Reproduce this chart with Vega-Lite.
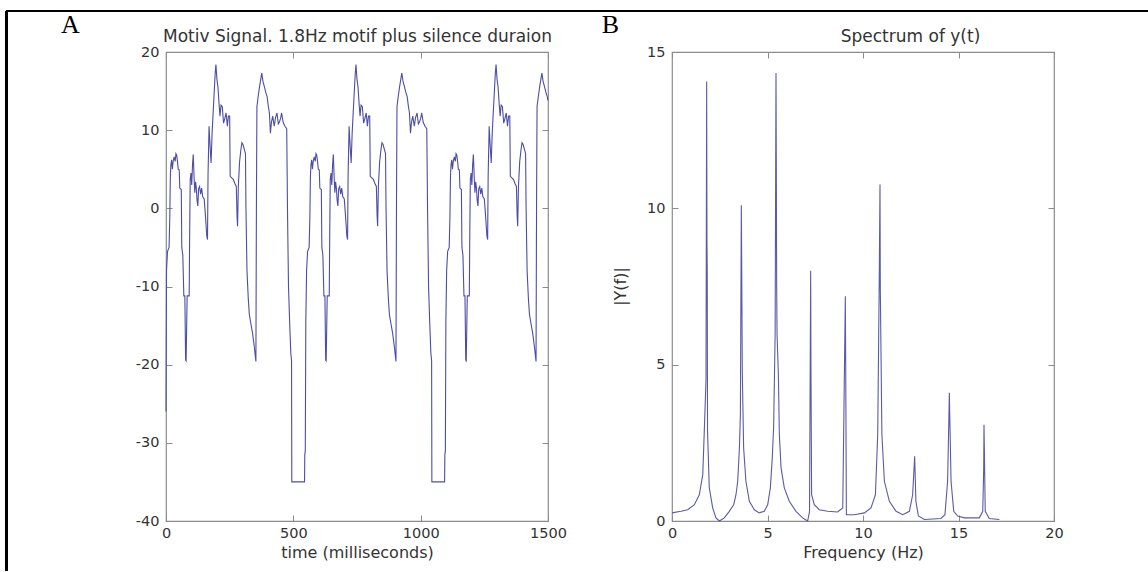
{
  "$schema": "https://vega.github.io/schema/vega-lite/v6.json",
  "padding": {"left": 4, "top": 9, "right": 0, "bottom": 0},
  "background": "white",
  "bounds": "flush",
  "spacing": 124,
  "config": {
    "view": {"stroke": "#8c8c8c", "strokeWidth": 1.2},
    "font": "DejaVu Sans",
    "axis": {
      "domain": false, "grid": false,
      "tickColor": "#8c8c8c", "tickSize": -6, "tickWidth": 1,
      "labelFont": "DejaVu Sans", "labelFontSize": 14.5, "labelColor": "#333",
      "labelPadding": 11, "labelFlush": false, "labelOverlap": false, "labelBound": false,
      "labelExpr": "'' + datum.value",
      "titleFont": "DejaVu Sans", "titleFontSize": 16, "titleFontWeight": "normal", "titleColor": "#333"
    }
  },
  "hconcat": [
    {
      "width": 382, "height": 469,
      "data": {"values": [
        {"t":0,"v":-26},{"t":2,"v":-8},{"t":6,"v":-5.5},{"t":12,"v":-5},{"t":15,"v":-1},{"t":17,"v":4},{"t":19,"v":5.5},{"t":22,"v":6.2},{"t":25,"v":5.0},{"t":28,"v":6.0},{"t":32,"v":6.6},{"t":36,"v":6.0},{"t":39,"v":7.0},{"t":42,"v":6.8},{"t":45,"v":6.0},{"t":48,"v":5.0},{"t":52,"v":4.9},{"t":54,"v":2.6},{"t":60,"v":2.4},{"t":62,"v":-5},{"t":66,"v":-6},{"t":70,"v":-11.2},{"t":74,"v":-11.2},{"t":77,"v":-19.4},{"t":79,"v":-19.5},{"t":83,"v":-11.2},{"t":91,"v":-11.2},{"t":93,"v":-3},{"t":95,"v":3.7},{"t":98,"v":4.5},{"t":101,"v":3.0},{"t":104,"v":5.5},{"t":107,"v":6.9},{"t":110,"v":4.2},{"t":113,"v":2.0},{"t":116,"v":3.4},{"t":119,"v":2.6},{"t":122,"v":1.0},{"t":125,"v":0.3},{"t":128,"v":2.5},{"t":132,"v":2.8},{"t":136,"v":1.8},{"t":140,"v":2.6},{"t":144,"v":1.5},{"t":150,"v":1.2},{"t":155,"v":-1},{"t":160,"v":-3.5},{"t":163,"v":-4.0},{"t":165,"v":4.1},{"t":169,"v":10.5},{"t":173,"v":8},{"t":177,"v":5.8},{"t":181,"v":9.6},{"t":185,"v":12.2},{"t":189,"v":14.7},{"t":193,"v":17.2},{"t":196,"v":18.4},{"t":200,"v":16.5},{"t":204,"v":15.5},{"t":208,"v":13.5},{"t":212,"v":11.8},{"t":216,"v":13.2},{"t":221,"v":13},{"t":226,"v":10.9},{"t":231,"v":11.5},{"t":236,"v":12.2},{"t":241,"v":10.5},{"t":245,"v":11.8},{"t":250,"v":11.8},{"t":252,"v":4.1},{"t":258,"v":3.9},{"t":264,"v":3.7},{"t":270,"v":3.2},{"t":276,"v":2.8},{"t":279,"v":-1},{"t":281,"v":-2.3},{"t":284,"v":2.8},{"t":289,"v":6.0},{"t":294,"v":7.5},{"t":298,"v":8.4},{"t":302,"v":8.2},{"t":307,"v":7.6},{"t":312,"v":7.0},{"t":314,"v":0},{"t":318,"v":-8},{"t":323,"v":-11.5},{"t":327,"v":-13.5},{"t":333,"v":-14.7},{"t":340,"v":-16},{"t":347,"v":-17.8},{"t":353,"v":-19.6},{"t":355,"v":0},{"t":357,"v":13},{"t":362,"v":14.3},{"t":367,"v":15.5},{"t":372,"v":16.5},{"t":376,"v":17.3},{"t":381,"v":16.2},{"t":386,"v":15.6},{"t":392,"v":14.8},{"t":397,"v":14.3},{"t":402,"v":13},{"t":406,"v":12.2},{"t":410,"v":9.6},{"t":414,"v":11},{"t":419,"v":11.8},{"t":425,"v":10.5},{"t":430,"v":11.6},{"t":436,"v":12.2},{"t":441,"v":10.8},{"t":445,"v":11.0},{"t":450,"v":11.5},{"t":454,"v":12.2},{"t":460,"v":11.0},{"t":467,"v":10.5},{"t":474,"v":10.2},{"t":477,"v":0},{"t":481,"v":-10},{"t":486,"v":-15},{"t":490,"v":-18.5},{"t":493,"v":-19.5},{"t":494,"v":-35},{"t":544,"v":-35},{"t":545,"v":-31.5},{"t":547,"v":-31},{"t":549,"v":-14.5},
        {"t":552,"v":-8},{"t":556,"v":-5.5},{"t":562,"v":-5},{"t":565,"v":-1},{"t":567,"v":4},{"t":569,"v":5.5},{"t":572,"v":6.2},{"t":575,"v":5.0},{"t":578,"v":6.0},{"t":582,"v":6.6},{"t":586,"v":6.0},{"t":589,"v":7.0},{"t":592,"v":6.8},{"t":595,"v":6.0},{"t":598,"v":5.0},{"t":602,"v":4.9},{"t":604,"v":2.6},{"t":610,"v":2.4},{"t":612,"v":-5},{"t":616,"v":-6},{"t":620,"v":-11.2},{"t":624,"v":-11.2},{"t":627,"v":-19.4},{"t":629,"v":-19.5},{"t":633,"v":-11.2},{"t":641,"v":-11.2},{"t":643,"v":-3},{"t":645,"v":3.7},{"t":648,"v":4.5},{"t":651,"v":3.0},{"t":654,"v":5.5},{"t":657,"v":6.9},{"t":660,"v":4.2},{"t":663,"v":2.0},{"t":666,"v":3.4},{"t":669,"v":2.6},{"t":672,"v":1.0},{"t":675,"v":0.3},{"t":678,"v":2.5},{"t":682,"v":2.8},{"t":686,"v":1.8},{"t":690,"v":2.6},{"t":694,"v":1.5},{"t":700,"v":1.2},{"t":705,"v":-1},{"t":710,"v":-3.5},{"t":713,"v":-4.0},{"t":715,"v":4.1},{"t":719,"v":10.5},{"t":723,"v":8},{"t":727,"v":5.8},{"t":731,"v":9.6},{"t":735,"v":12.2},{"t":739,"v":14.7},{"t":743,"v":17.2},{"t":746,"v":18.4},{"t":750,"v":16.5},{"t":754,"v":15.5},{"t":758,"v":13.5},{"t":762,"v":11.8},{"t":766,"v":13.2},{"t":771,"v":13},{"t":776,"v":10.9},{"t":781,"v":11.5},{"t":786,"v":12.2},{"t":791,"v":10.5},{"t":795,"v":11.8},{"t":800,"v":11.8},{"t":802,"v":4.1},{"t":808,"v":3.9},{"t":814,"v":3.7},{"t":820,"v":3.2},{"t":826,"v":2.8},{"t":829,"v":-1},{"t":831,"v":-2.3},{"t":834,"v":2.8},{"t":839,"v":6.0},{"t":844,"v":7.5},{"t":848,"v":8.4},{"t":852,"v":8.2},{"t":857,"v":7.6},{"t":862,"v":7.0},{"t":864,"v":0},{"t":868,"v":-8},{"t":873,"v":-11.5},{"t":877,"v":-13.5},{"t":883,"v":-14.7},{"t":890,"v":-16},{"t":897,"v":-17.8},{"t":903,"v":-19.6},{"t":905,"v":0},{"t":907,"v":13},{"t":912,"v":14.3},{"t":917,"v":15.5},{"t":922,"v":16.5},{"t":926,"v":17.3},{"t":931,"v":16.2},{"t":936,"v":15.6},{"t":942,"v":14.8},{"t":947,"v":14.3},{"t":952,"v":13},{"t":956,"v":12.2},{"t":960,"v":9.6},{"t":964,"v":11},{"t":969,"v":11.8},{"t":975,"v":10.5},{"t":980,"v":11.6},{"t":986,"v":12.2},{"t":991,"v":10.8},{"t":995,"v":11.0},{"t":1000,"v":11.5},{"t":1004,"v":12.2},{"t":1010,"v":11.0},{"t":1017,"v":10.5},{"t":1024,"v":10.2},{"t":1027,"v":0},{"t":1031,"v":-10},{"t":1036,"v":-15},{"t":1040,"v":-18.5},{"t":1043,"v":-19.5},{"t":1044,"v":-35},{"t":1094,"v":-35},{"t":1095,"v":-31.5},{"t":1097,"v":-31},{"t":1099,"v":-14.5},
        {"t":1102,"v":-8},{"t":1106,"v":-5.5},{"t":1112,"v":-5},{"t":1115,"v":-1},{"t":1117,"v":4},{"t":1119,"v":5.5},{"t":1122,"v":6.2},{"t":1125,"v":5.0},{"t":1128,"v":6.0},{"t":1132,"v":6.6},{"t":1136,"v":6.0},{"t":1139,"v":7.0},{"t":1142,"v":6.8},{"t":1145,"v":6.0},{"t":1148,"v":5.0},{"t":1152,"v":4.9},{"t":1154,"v":2.6},{"t":1160,"v":2.4},{"t":1162,"v":-5},{"t":1166,"v":-6},{"t":1170,"v":-11.2},{"t":1174,"v":-11.2},{"t":1177,"v":-19.4},{"t":1179,"v":-19.5},{"t":1183,"v":-11.2},{"t":1191,"v":-11.2},{"t":1193,"v":-3},{"t":1195,"v":3.7},{"t":1198,"v":4.5},{"t":1201,"v":3.0},{"t":1204,"v":5.5},{"t":1207,"v":6.9},{"t":1210,"v":4.2},{"t":1213,"v":2.0},{"t":1216,"v":3.4},{"t":1219,"v":2.6},{"t":1222,"v":1.0},{"t":1225,"v":0.3},{"t":1228,"v":2.5},{"t":1232,"v":2.8},{"t":1236,"v":1.8},{"t":1240,"v":2.6},{"t":1244,"v":1.5},{"t":1250,"v":1.2},{"t":1255,"v":-1},{"t":1260,"v":-3.5},{"t":1263,"v":-4.0},{"t":1265,"v":4.1},{"t":1269,"v":10.5},{"t":1273,"v":8},{"t":1277,"v":5.8},{"t":1281,"v":9.6},{"t":1285,"v":12.2},{"t":1289,"v":14.7},{"t":1293,"v":17.2},{"t":1296,"v":18.4},{"t":1300,"v":16.5},{"t":1304,"v":15.5},{"t":1308,"v":13.5},{"t":1312,"v":11.8},{"t":1316,"v":13.2},{"t":1321,"v":13},{"t":1326,"v":10.9},{"t":1331,"v":11.5},{"t":1336,"v":12.2},{"t":1341,"v":10.5},{"t":1345,"v":11.8},{"t":1350,"v":11.8},{"t":1352,"v":4.1},{"t":1358,"v":3.9},{"t":1364,"v":3.7},{"t":1370,"v":3.2},{"t":1376,"v":2.8},{"t":1379,"v":-1},{"t":1381,"v":-2.3},{"t":1384,"v":2.8},{"t":1389,"v":6.0},{"t":1394,"v":7.5},{"t":1398,"v":8.4},{"t":1402,"v":8.2},{"t":1407,"v":7.6},{"t":1412,"v":7.0},{"t":1414,"v":0},{"t":1418,"v":-8},{"t":1423,"v":-11.5},{"t":1427,"v":-13.5},{"t":1433,"v":-14.7},{"t":1440,"v":-16},{"t":1447,"v":-17.8},{"t":1453,"v":-19.6},{"t":1455,"v":0},{"t":1457,"v":13},{"t":1462,"v":14.3},{"t":1467,"v":15.5},{"t":1472,"v":16.5},{"t":1476,"v":17.3},{"t":1481,"v":16.2},{"t":1486,"v":15.6},{"t":1492,"v":14.8},{"t":1497,"v":14.3},{"t":1500,"v":13.8}
      ]},
      "layer": [
        {
          "mark": {"type": "line", "color": "#4d4da6", "strokeWidth": 1.1},
          "encoding": {
            "x": {"field": "t", "type": "quantitative", "scale": {"domain": [0, 1500], "nice": false},
                  "axis": {"orient": "bottom", "values": [0, 500, 1000, 1500], "title": "time (milliseconds)",
                           "titleX": 191, "titleY": 31, "titleAlign": "center", "titleBaseline": "middle"}},
            "y": {"field": "v", "type": "quantitative", "scale": {"domain": [-40, 20], "nice": false, "zero": false},
                  "axis": {"orient": "left", "values": [-40, -30, -20, -10, 0, 10, 20], "labelPadding": 13,
                           "title": "A", "titleAngle": 0, "titleX": -96, "titleY": -20, "titleAlign": "center", "titleBaseline": "alphabetic",
                           "titleFont": "Liberation Serif", "titleFontSize": 26, "titleColor": "#000"}}
          }
        },
        {
          "mark": {"type": "line", "opacity": 0},
          "encoding": {
            "x": {"field": "t", "type": "quantitative",
                  "axis": {"orient": "top", "values": [0, 500, 1000, 1500], "labels": false,
                           "title": "Motiv Signal. 1.8Hz motif plus silence duraion", "titleX": 191, "titleY": -11,
                           "titleAlign": "center", "titleBaseline": "alphabetic", "titleFontSize": 17}},
            "y": {"field": "v", "type": "quantitative",
                  "axis": {"orient": "right", "values": [-40, -30, -20, -10, 0, 10, 20], "labels": false, "title": null}}
          }
        },
        {
          "mark": {"type": "rule", "color": "#000", "strokeWidth": 2},
          "encoding": {
            "x": {"datum": -628, "type": "quantitative", "axis": null},
            "x2": {"datum": 3855},
            "y": {"datum": 25.245, "type": "quantitative", "axis": null}
          }
        },
        {
          "mark": {"type": "rule", "color": "#000", "strokeWidth": 2},
          "encoding": {
            "x": {"datum": -628, "type": "quantitative", "axis": null},
            "y": {"datum": 25.245, "type": "quantitative", "axis": null},
            "y2": {"datum": -46.4}
          }
        }
      ]
    },
    {
      "width": 382, "height": 469,
      "data": {"values": [
        {"f":0,"a":0.26},{"f":0.47,"a":0.31},{"f":0.82,"a":0.36},{"f":1.17,"a":0.52},{"f":1.43,"a":0.84},{"f":1.61,"a":1.48},{"f":1.69,"a":2.87},{"f":1.78,"a":4.5},{"f":1.815,"a":14.06},{"f":1.83,"a":9.0},{"f":1.845,"a":8.0},{"f":1.86,"a":2.9},{"f":1.95,"a":1.07},{"f":2.13,"a":0.42},{"f":2.3,"a":0.1},{"f":2.48,"a":0.0},
        {"f":2.74,"a":0.1},{"f":3.0,"a":0.31},{"f":3.23,"a":0.52},{"f":3.35,"a":0.84},{"f":3.44,"a":1.27},{"f":3.53,"a":2.34},{"f":3.58,"a":3.4},{"f":3.63,"a":10.1},{"f":3.645,"a":8.7},{"f":3.66,"a":7.0},{"f":3.68,"a":4.79},{"f":3.75,"a":2.34},{"f":3.87,"a":1.27},{"f":4.05,"a":0.63},{"f":4.31,"a":0.36},{"f":4.57,"a":0.26},{"f":4.83,"a":0.31},
        {"f":5.01,"a":0.52},{"f":5.15,"a":1.06},{"f":5.25,"a":2.02},{"f":5.32,"a":2.98},{"f":5.40,"a":6.0},{"f":5.445,"a":14.33},{"f":5.46,"a":11.6},{"f":5.48,"a":7.5},{"f":5.50,"a":5.96},{"f":5.57,"a":4.68},{"f":5.62,"a":2.76},{"f":5.71,"a":1.7},{"f":5.88,"a":1.06},{"f":6.14,"a":0.63},{"f":6.49,"a":0.31},{"f":6.84,"a":0.1},{"f":7.1,"a":0.0},
        {"f":7.2,"a":0.3},{"f":7.26,"a":8.0},{"f":7.275,"a":4.9},{"f":7.31,"a":0.84},{"f":7.45,"a":0.52},{"f":7.71,"a":0.36},{"f":8.15,"a":0.31},{"f":8.67,"a":0.29},{"f":8.94,"a":0.42},{"f":9.075,"a":7.19},{"f":9.09,"a":5.5},{"f":9.13,"a":0.2},{"f":9.55,"a":0.2},{"f":10.07,"a":0.26},{"f":10.42,"a":0.42},{"f":10.65,"a":0.84},
        {"f":10.77,"a":2.76},{"f":10.85,"a":7.67},{"f":10.89,"a":10.76},{"f":10.905,"a":7.5},{"f":10.99,"a":2.76},{"f":11.12,"a":1.27},{"f":11.38,"a":0.63},{"f":11.73,"a":0.31},{"f":12.08,"a":0.2},{"f":12.43,"a":0.31},{"f":12.6,"a":0.84},{"f":12.705,"a":2.07},{"f":12.77,"a":0.63},{"f":12.9,"a":0.16},{"f":13.21,"a":0.05},
        {"f":14.08,"a":0.08},{"f":14.29,"a":0.2},{"f":14.43,"a":1.27},{"f":14.5,"a":3.4},{"f":14.52,"a":4.1},{"f":14.61,"a":1.27},{"f":14.75,"a":0.31},{"f":14.96,"a":0.16},{"f":15.31,"a":0.1},{"f":16.09,"a":0.1},{"f":16.27,"a":0.31},{"f":16.32,"a":1.7},{"f":16.335,"a":3.08},{"f":16.4,"a":0.31},{"f":16.61,"a":0.08},{"f":17.14,"a":0.05}
      ]},
      "layer": [
        {
          "mark": {"type": "line", "color": "#5a5aa6", "strokeWidth": 1.1},
          "encoding": {
            "x": {"field": "f", "type": "quantitative", "scale": {"domain": [0, 20], "nice": false},
                  "axis": {"orient": "bottom", "values": [0, 5, 10, 15, 20], "title": "Frequency (Hz)",
                           "titleX": 191, "titleY": 31, "titleAlign": "center", "titleBaseline": "middle"}},
            "y": {"field": "a", "type": "quantitative", "scale": {"domain": [0, 15], "nice": false},
                  "axis": {"orient": "left", "values": [0, 5, 10, 15], "labelPadding": 13, "title": "|Y(f)|",
                           "titleAngle": -90, "titleX": -52, "titleY": 234, "titleAlign": "center", "titleBaseline": "middle"}}
          }
        },
        {
          "mark": {"type": "line", "opacity": 0},
          "encoding": {
            "x": {"field": "f", "type": "quantitative",
                  "axis": {"orient": "top", "values": [0, 5, 10, 15, 20], "labels": false,
                           "title": "Spectrum of y(t)", "titleX": 238, "titleY": -11,
                           "titleAlign": "center", "titleBaseline": "alphabetic", "titleFontSize": 17}},
            "y": {"field": "a", "type": "quantitative",
                  "axis": {"orient": "right", "values": [0, 5, 10, 15], "labels": false,
                           "title": "B", "titleAngle": 0, "titleX": -444, "titleY": -20, "titleAlign": "center", "titleBaseline": "alphabetic",
                           "titleFont": "Liberation Serif", "titleFontSize": 26, "titleColor": "#000"}}
          }
        }
      ]
    }
  ]
}
